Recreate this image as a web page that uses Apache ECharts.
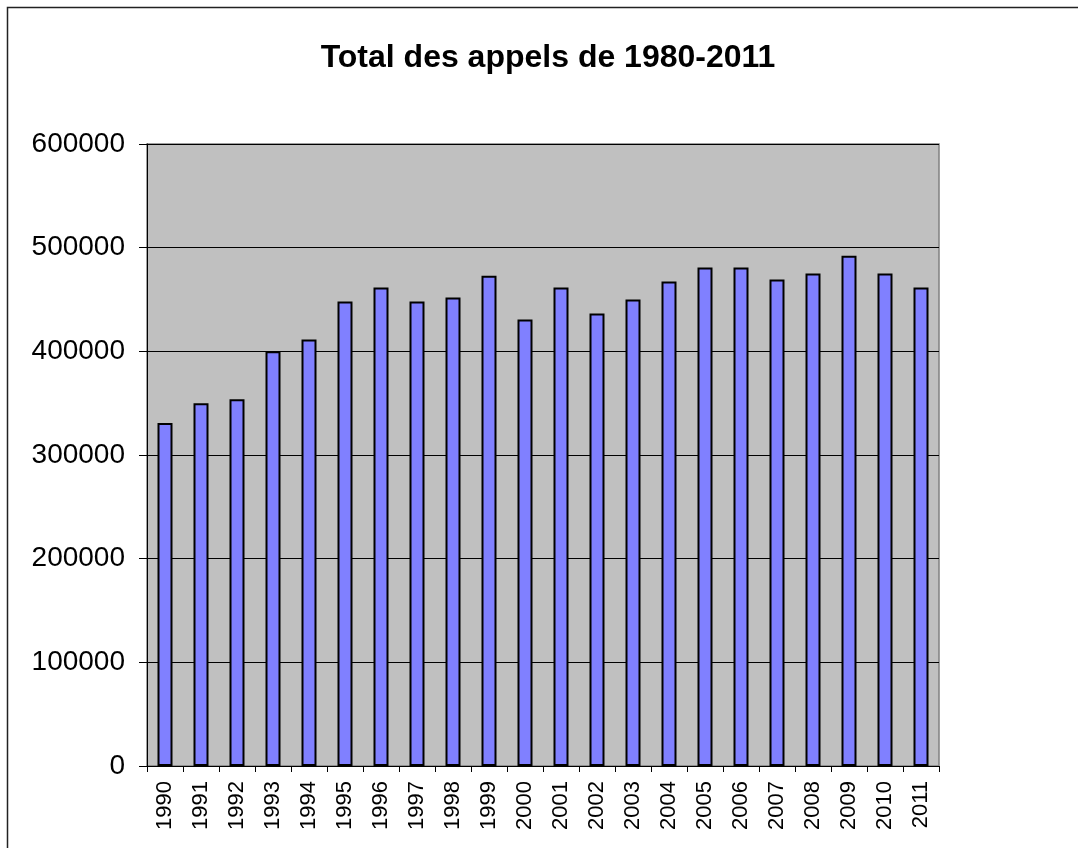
<!DOCTYPE html>
<html>
<head>
    <meta charset="utf-8">
    <title>Total des appels</title>
    <script src="https://cdn.jsdelivr.net/npm/echarts@6/dist/echarts.min.js"></script>
    <style>
        html, body { margin: 0; padding: 0; background: #fff; }
        #main { width: 1078px; height: 848px; }
    </style>
</head>
<body>
    <div id="main"></div>
    <script type="text/javascript">
    var years = ['1990','1991','1992','1993','1994','1995','1996','1997','1998','1999','2000',
                 '2001','2002','2003','2004','2005','2006','2007','2008','2009','2010','2011'];
    var appels = [330800, 350000, 353800, 400000, 411500, 448000, 461500, 448000, 452000, 473000, 430800,
                  461500, 436500, 450000, 467300, 480800, 480800, 469200, 475000, 492300, 475000, 461500];
    var yTicks = [0, 100000, 200000, 300000, 400000, 500000, 600000];

    var chart = echarts.init(document.getElementById('main'));
    chart.setOption({
        animation: false,
        backgroundColor: '#ffffff',
        textStyle: { fontFamily: 'Liberation Sans, Arial, sans-serif' },
        title: {
            text: 'Total des appels de 1980-2011',
            left: 543, top: 37, textAlign: 'center',
            textStyle: { fontSize: 32, fontWeight: 'bold', color: '#000' }
        },
        graphic: [{
            type: 'rect', silent: true, z: -1,
            shape: { x: 7.5, y: 7.5, width: 1200, height: 1000 },
            style: { fill: 'none', stroke: '#222', lineWidth: 1.5 }
        }],
        grid: {
            left: 147, right: 139, top: 144, bottom: 82,
            show: true, backgroundColor: '#c0c0c0', borderColor: '#808080', borderWidth: 1.5
        },
        xAxis: {
            type: 'category',
            data: years,
            boundaryGap: true,
            axisLine: { lineStyle: { color: '#000', width: 1 } },
            axisTick: { show: true, length: 6, inside: false, lineStyle: { color: '#000' } },
            axisLabel: { rotate: 90, margin: 15, fontSize: 22, color: '#000', interval: 0 }
        },
        yAxis: {
            type: 'value',
            min: yTicks[0], max: yTicks[yTicks.length - 1], interval: 100000,
            axisLine: { show: true, lineStyle: { color: '#000', width: 1 } },
            axisTick: { show: true, length: 8, lineStyle: { color: '#000' } },
            axisLabel: { fontSize: 28, color: '#000', margin: 22, formatter: function (v) { return String(v); } },
            splitLine: { show: true, lineStyle: { color: '#000', width: 1 } }
        },
        series: [{
            type: 'bar',
            data: appels,
            barWidth: 15,
            itemStyle: { color: '#8080ff', borderColor: '#000', borderWidth: 2 }
        }]
    });
    </script>
</body>
</html>
